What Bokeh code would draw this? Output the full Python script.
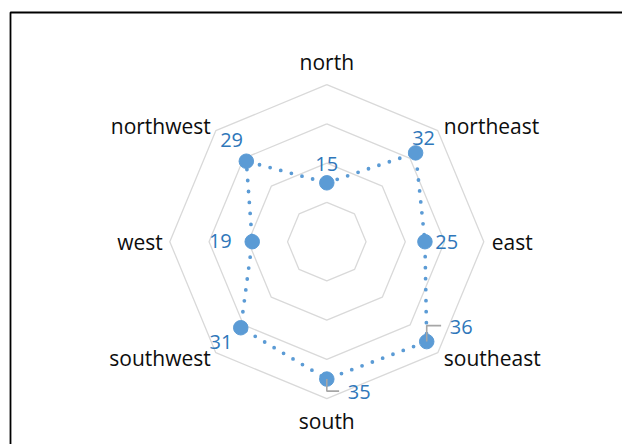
import math
from bokeh.plotting import figure
from bokeh.models import Range1d, ColumnDataSource
from bokeh.embed import file_html
from bokeh.resources import INLINE
from bokeh.core.properties import value

# ---- data ----
categories = ["north", "northeast", "east", "southeast", "south", "southwest", "west", "northwest"]
values = [15, 32, 25, 36, 35, 31, 19, 29]
ring_levels = [10, 20, 30, 40]
axis_max = 40

# ---- layout / style constants (pixels) ----
W, H = 622, 444
CX, CY = 326.3, 241.2        # centre of the radar in figure pixels
R = 157.0                    # radius of outer ring in pixels
k = R / axis_max             # pixels per value unit
TXT_SHIFT = -7               # vertical correction for text baseline rendering

# category label offsets from outer vertex (screen px, y down) and alignment
cat_off = [(0, -15.7, "center"), (6, 2.7, "left"), (8, 7, "left"), (6, 12, "left"),
           (0, 29, "center"), (-5, 12, "right"), (-7, 7, "right"), (-5, 2.7, "right")]
# data label centre offsets from point (screen px, y down), baseline alphabetic
lab_off = [(0, -11.7), (8, -7.7), (21.7, 7.6), (34.5, -7.4),
           (32.5, 20), (-19.8, 21.3), (-31.9, 6.6), (-14.7, -14.7)]
# leader lines (screen px offsets from point)
leaders = {3: [(0, 0), (0, -16), (14.4, -16)], 4: [(0, 0), (0, 12), (12.3, 12)]}

SERIES = "#5B9BD5"
LABEL = "#2F77BA"
GRID = "#D9D9D9"
FONT = "Open Sans"

n = len(categories)
thetas = [2 * math.pi * i / n for i in range(n)]


def to_data(x, y, dx, dy):
    return x + dx / k, y - dy / k


p = figure(width=W, height=H, output_backend="svg", toolbar_location=None,
           x_range=Range1d(-CX / k, (W - CX) / k), y_range=Range1d(-(H - CY) / k, CY / k),
           x_axis_location=None, y_axis_location=None, min_border=0,
           outline_line_color=None, background_fill_color="white", border_fill_color="white")
p.grid.visible = False

# frame (top and left edges visible)
x_left = (10 - CX) / k
y_top = (CY - 12) / k
p.line([x_left, x_left, (W - CX) / k + 10], [-(H - CY) / k - 10, y_top, y_top],
       line_color="#000000", line_width=1.8)

# grid rings
ring_xs = [[lv * math.sin(t) for t in thetas + [thetas[0]]] for lv in ring_levels]
ring_ys = [[lv * math.cos(t) for t in thetas + [thetas[0]]] for lv in ring_levels]
p.multi_line(ring_xs, ring_ys, line_color=GRID, line_width=1.3)

# series
px = [v * math.sin(t) for v, t in zip(values, thetas)]
py = [v * math.cos(t) for v, t in zip(values, thetas)]
p.line(px + [px[0]], py + [py[0]], line_color=SERIES, line_width=3.8,
       line_dash="0 11", line_cap="round")
p.scatter(px, py, size=14.5, fill_color=SERIES, line_color=SERIES)

# leader lines
for i, pts in leaders.items():
    lx, ly = zip(*[to_data(px[i], py[i], dx, dy) for dx, dy in pts])
    p.line(list(lx), list(ly), line_color="#A6A6A6", line_width=1.6)

# data labels
dl = [to_data(px[i], py[i], lab_off[i][0], lab_off[i][1] + TXT_SHIFT) for i in range(n)]
p.text(x=[d[0] for d in dl], y=[d[1] for d in dl], text=[str(v) for v in values],
       text_font=value(FONT), text_font_size="20px", text_color=LABEL,
       text_align="center", text_baseline="alphabetic")

# category labels
cx_, cy_, ca_ = [], [], []
for i, t in enumerate(thetas):
    vx, vy = axis_max * math.sin(t), axis_max * math.cos(t)
    dx, dy, al = cat_off[i]
    x, y = to_data(vx, vy, dx, dy + TXT_SHIFT)
    cx_.append(x); cy_.append(y); ca_.append(al)
src = ColumnDataSource(dict(x=cx_, y=cy_, text=categories, align=ca_))
p.text(x="x", y="y", text="text", text_align="align", source=src,
       text_font=value(FONT), text_font_size="21px", text_color="#0D0D0D",
       text_baseline="alphabetic")

open("out.html", "w").write(file_html(p, INLINE))
